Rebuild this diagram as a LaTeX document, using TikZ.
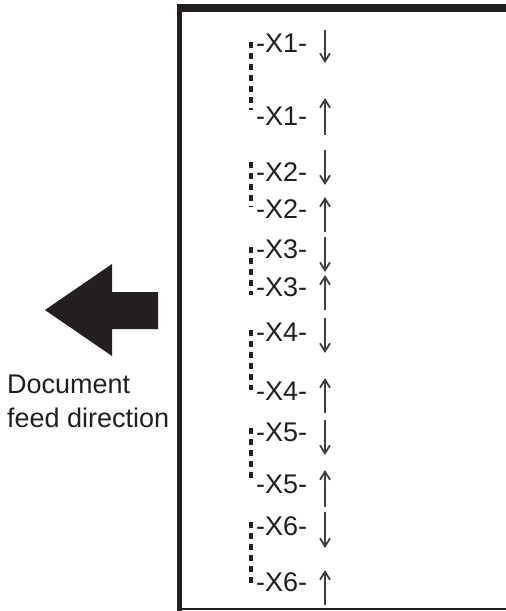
\documentclass[tikz,border=0pt]{standalone}
\usepackage{fontspec}
\setmainfont{Liberation Sans}
\usepackage{xcolor}
\usetikzlibrary{arrows.meta,positioning}
\definecolor{ink}{HTML}{231F20}
\definecolor{arrowgray}{HTML}{404040}

\begin{document}
\begin{tikzpicture}[x=1pt, y=-1pt, font=\fontsize{27}{34}\selectfont, text=ink]
    % Stili
    \tikzstyle{tag}=[anchor=west, inner sep=0pt]
    \tikzstyle{caption}=[anchor=base west, inner sep=0pt]
    \tikzstyle{bracket}=[draw=ink, line width=3.5pt, dash pattern=on 6pt off 5pt]
    \tikzstyle{flow}=[draw=arrowgray, line width=1.8pt, -{Straight Barb[length=8pt,width=10pt]}]
    \tikzstyle{frame}=[draw=ink]

    \useasboundingbox (0,0) rectangle (506,611);

    % Cornice
    \draw[frame, line width=8pt] (177,8) -- (506,8);
    \draw[frame, line width=5pt] (179.5,4) -- (179.5,611);
    \draw[frame, line width=2pt] (177,609) -- (506,609);

    % Etichette
    \foreach \n/\ya/\yb in {1/43/116, 2/172/209, 3/249/287, 4/332/391, 5/432/484, 6/526/582}{
        \node[tag] (top\n) at (256,\ya) {-X\n-};
        \node[tag] (bot\n) at (256,\yb) {-X\n-};
    }

    % Parentesi tratteggiate
    \foreach \ya/\yb in {42/110, 162/207, 247/295, 330/390, 428/482, 522/587}
        \draw[bracket] (251,\ya) -- (251,\yb);

    % Frecce
    \foreach \ya/\yb in {30/63, 135/98, 150/185, 232/197, 237/272, 310/275, 318/353, 413/378, 420/455, 507/470, 512/548, 605/570}
        \draw[flow] (325,\ya) -- (325,\yb);

    % Direzione
    \fill[ink] (45,310) -- (112,264) -- (112,292) -- (158,292) -- (158,329) -- (112,329) -- (112,356) -- cycle;
    \node[caption] (doc) at (7,393) {Document};
    \node[caption] (feed) at (7,427) {feed direction};
\end{tikzpicture}
\end{document}
